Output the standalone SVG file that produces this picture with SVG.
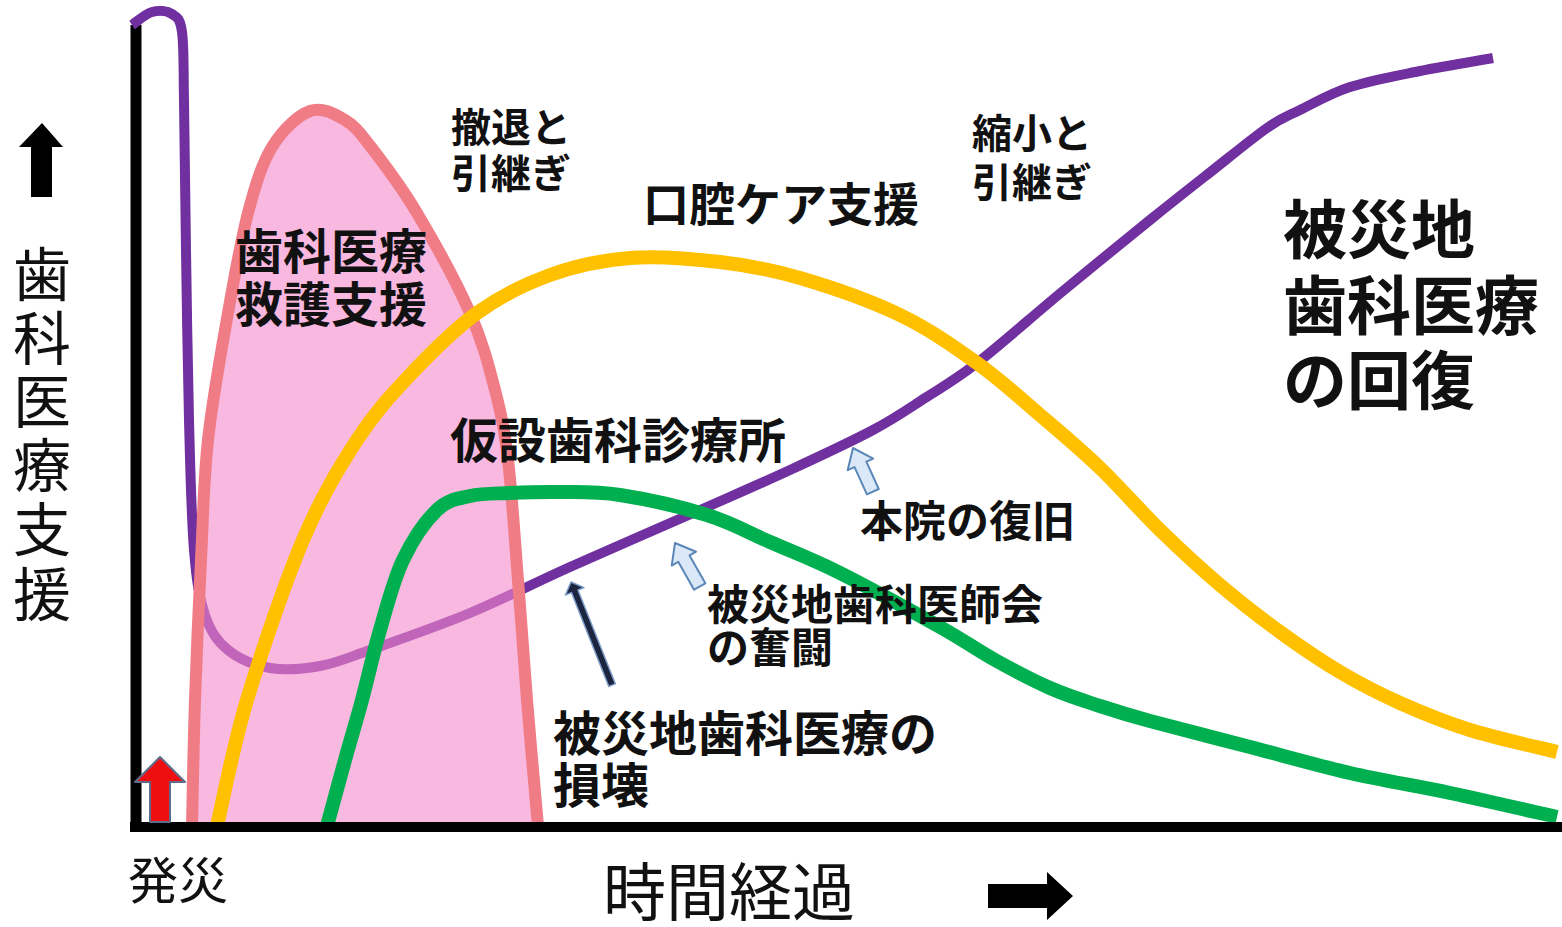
<svg xmlns="http://www.w3.org/2000/svg" width="1562" height="927" viewBox="0 0 1562 927">
<style>
.curve{fill:none;stroke-linejoin:round;}
.purple{stroke:#7030a0;stroke-width:10;stroke-linecap:butt;}
.pinkline{stroke:#f07c86;stroke-width:12;}
.yellow{stroke:#ffc000;stroke-width:14;stroke-linecap:butt;}
.green{stroke:#00b050;stroke-width:14;stroke-linecap:butt;}
.axis{stroke:#000;fill:none;}
text{font-family:"Noto Sans CJK JP","Noto Sans CJK SC",sans-serif;fill:#111;}
.lbl{font-weight:700;}
.ax{font-weight:400;}
.hollow{fill:#dae8f8;stroke:#5b87b8;stroke-width:2;stroke-linejoin:round;}
</style>
<rect x="0" y="0" width="1562" height="927" fill="#ffffff"/>

<g id="y-axis">
  <line class="axis" x1="136" y1="25" x2="136" y2="832" stroke-width="11"/>
</g>

<g id="curve-purple">
  <path class="curve purple" d="M132,25 C135.3,22.8 145.3,13.8 152,12 C158.7,10.2 167,10.7 172,14 C177,17.3 180,17.7 182,32 C184,46.3 183.3,63.7 184,100 C184.7,136.3 185.2,196.7 186,250 C186.8,303.3 187.7,370 189,420 C190.3,470 191.3,517.5 194,550 C196.7,582.5 199.3,598.3 205,615 C210.7,631.7 217.2,641.2 228,650 C238.8,658.8 254.7,665.3 270,668 C285.3,670.7 303.3,669 320,666 C336.7,663 345,658.8 370,650 C395,641.2 436.7,626.8 470,613 C503.3,599.2 530.5,584.7 570,567 C609.5,549.3 670.3,523.2 707,507 C743.7,490.8 762.3,482.8 790,470 C817.7,457.2 850.5,442 873,430 C895.5,418 907.7,409.2 925,398 C942.3,386.8 954,380.8 977,363 C1000,345.2 1034.2,314.8 1063,291 C1091.8,267.2 1125.8,239.5 1150,220 C1174.2,200.5 1188.5,189.3 1208,174 C1227.5,158.7 1251.7,138.7 1267,128 C1282.3,117.3 1286.2,116.8 1300,110 C1313.8,103.2 1330,93.5 1350,87 C1370,80.5 1396.2,75.8 1420,71 C1443.8,66.2 1480.8,60.2 1493,58"/>
</g>

<g id="curve-pink">
  <path fill="#f589ca" fill-opacity="0.6" stroke="none" d="M192,826 C192.5,805 193.5,744.3 195,700 C196.5,655.7 198.8,603.3 201,560 C203.2,516.7 203.5,481.2 208,440 C212.5,398.8 221.3,350.8 228,313 C234.7,275.2 240.7,240.7 248,213 C255.3,185.3 261.7,164 272,147 C282.3,130 297.8,115.5 310,111 C322.2,106.5 334.8,114 345,120 C355.2,126 359,131.5 371,147 C383,162.5 400.5,185.3 417,213 C433.5,240.7 457,283.5 470,313 C483,342.5 488.7,365.5 495,390 C501.3,414.5 504.2,428.3 508,460 C511.8,491.7 514.8,540 518,580 C521.2,620 523.7,659 527,700 C530.3,741 536.2,805 538,826 Z"/>
  <path class="curve pinkline" d="M192,826 C192.5,805 193.5,744.3 195,700 C196.5,655.7 198.8,603.3 201,560 C203.2,516.7 203.5,481.2 208,440 C212.5,398.8 221.3,350.8 228,313 C234.7,275.2 240.7,240.7 248,213 C255.3,185.3 261.7,164 272,147 C282.3,130 297.8,115.5 310,111 C322.2,106.5 334.8,114 345,120 C355.2,126 359,131.5 371,147 C383,162.5 400.5,185.3 417,213 C433.5,240.7 457,283.5 470,313 C483,342.5 488.7,365.5 495,390 C501.3,414.5 504.2,428.3 508,460 C511.8,491.7 514.8,540 518,580 C521.2,620 523.7,659 527,700 C530.3,741 536.2,805 538,826"/>
</g>

<g id="curve-yellow">
  <path class="curve yellow" d="M217,826 C222,805 232.7,747.7 247,700 C261.3,652.3 284.7,583.3 303,540 C321.3,496.7 339.2,467.5 357,440 C374.8,412.5 390,396.2 410,375 C430,353.8 453.7,329.7 477,313 C500.3,296.3 524.5,284.2 550,275 C575.5,265.8 601.7,260.2 630,258 C658.3,255.8 691.7,258.7 720,262 C748.3,265.3 770,269.2 800,278 C830,286.8 870.5,300.8 900,315 C929.5,329.2 953.7,346.3 977,363 C1000.3,379.7 1019.5,397.5 1040,415 C1060.5,432.5 1080,448.8 1100,468 C1120,487.2 1140,510.5 1160,530 C1180,549.5 1200,568 1220,585 C1240,602 1260,617.5 1280,632 C1300,646.5 1320,660.2 1340,672 C1360,683.8 1378.3,693.3 1400,703 C1421.7,712.7 1443.8,721.8 1470,730 C1496.2,738.2 1542.5,748.3 1557,752"/>
</g>

<g id="curve-green">
  <path class="curve green" d="M327,826 C330,815 339.2,781 345,760 C350.8,739 356.2,721.7 362,700 C367.8,678.3 373.2,653.3 380,630 C386.8,606.7 393.5,580 403,560 C412.5,540 425.8,520.7 437,510 C448.2,499.3 457.8,498.8 470,496 C482.2,493.2 495,493.7 510,493 C525,492.3 541.7,491.7 560,492 C578.3,492.3 595.5,491.2 620,495 C644.5,498.8 682,507.2 707,515 C732,522.8 747.8,532.3 770,542 C792.2,551.7 811.7,558.8 840,573 C868.3,587.2 914.2,612.5 940,627 C965.8,641.5 976.7,649.8 995,660 C1013.3,670.2 1032.5,680.3 1050,688 C1067.5,695.7 1083.3,700.5 1100,706 C1116.7,711.5 1125,714.2 1150,721 C1175,727.8 1216.7,738.3 1250,747 C1283.3,755.7 1316.7,765.3 1350,773 C1383.3,780.7 1415.5,785.7 1450,793 C1484.5,800.3 1539.2,813 1557,817"/>
</g>

<g id="x-axis">
  <line class="axis" x1="130" y1="827" x2="1562" y2="827" stroke-width="10"/>
</g>

<g id="connectors">
  <polygon id="arrow-y" points="42,123 63,147 52,147 52,197 31,197 31,147 19,147" fill="#000"/>
  <polygon id="arrow-x" points="988,884 1047,884 1047,872 1073,896 1047,920 1047,908 988,908" fill="#000"/>
  <polygon id="arrow-onset" points="160,757 185,782 170,782 170,822 150,822 150,782 135,782" fill="#ee1010" stroke="#5d6c8c" stroke-width="2" stroke-linejoin="round"/>
  <polygon id="arrow-damage" transform="translate(571,582) rotate(-21.7)" points="0,0 10,10 3.5,10 3.5,111 -3.5,111 -3.5,10 -10,10" fill="#1c2540" stroke="#7d9cc8" stroke-width="1.5" stroke-linejoin="round"/>
  <polygon id="arrow-assoc" class="hollow" transform="translate(675,543) rotate(-29.6)" points="0,0 14,18 6.5,18 6.5,50 -6.5,50 -6.5,18 -14,18"/>
  <polygon id="arrow-hq" class="hollow" transform="translate(853,448) rotate(-24.4)" points="0,0 14,18 6.5,18 6.5,48 -6.5,48 -6.5,18 -14,18"/>
</g>

<g id="label-yaxis" class="ax" font-size="58" text-anchor="middle">
  <text x="42" y="296">歯</text>
  <text x="42" y="360">科</text>
  <text x="42" y="423">医</text>
  <text x="42" y="487">療</text>
  <text x="42" y="551">支</text>
  <text x="42" y="616">援</text>
</g>
<g id="label-onset"><text class="ax" x="128" y="899" font-size="50">発災</text></g>
<g id="label-time"><text class="ax" x="603" y="915" font-size="63">時間経過</text></g>

<g id="label-rescue" class="lbl" font-size="48">
  <text x="235" y="269">歯科医療</text>
  <text x="235" y="322">救護支援</text>
</g>
<g id="label-withdraw" class="lbl" font-size="40">
  <text x="451" y="142">撤退と</text>
  <text x="451" y="188">引継ぎ</text>
</g>
<g id="label-oralcare" class="lbl" font-size="46">
  <text x="643" y="221">口腔ケア支援</text>
</g>
<g id="label-shrink" class="lbl" font-size="40">
  <text x="972" y="148">縮小と</text>
  <text x="972" y="197">引継ぎ</text>
</g>
<g id="label-recovery" class="lbl" font-size="64">
  <text x="1283" y="253">被災地</text>
  <text x="1283" y="329">歯科医療</text>
  <text x="1283" y="404">の回復</text>
</g>
<g id="label-temporary" class="lbl" font-size="48">
  <text x="450" y="458">仮設歯科診療所</text>
</g>
<g id="label-hq" class="lbl" font-size="43">
  <text x="860" y="537">本院の復旧</text>
</g>
<g id="label-assoc" class="lbl" font-size="42">
  <text x="707" y="620">被災地歯科医師会</text>
  <text x="707" y="663">の奮闘</text>
</g>
<g id="label-damage" class="lbl" font-size="48">
  <text x="553" y="751">被災地歯科医療の</text>
  <text x="553" y="803">損壊</text>
</g>
</svg>
